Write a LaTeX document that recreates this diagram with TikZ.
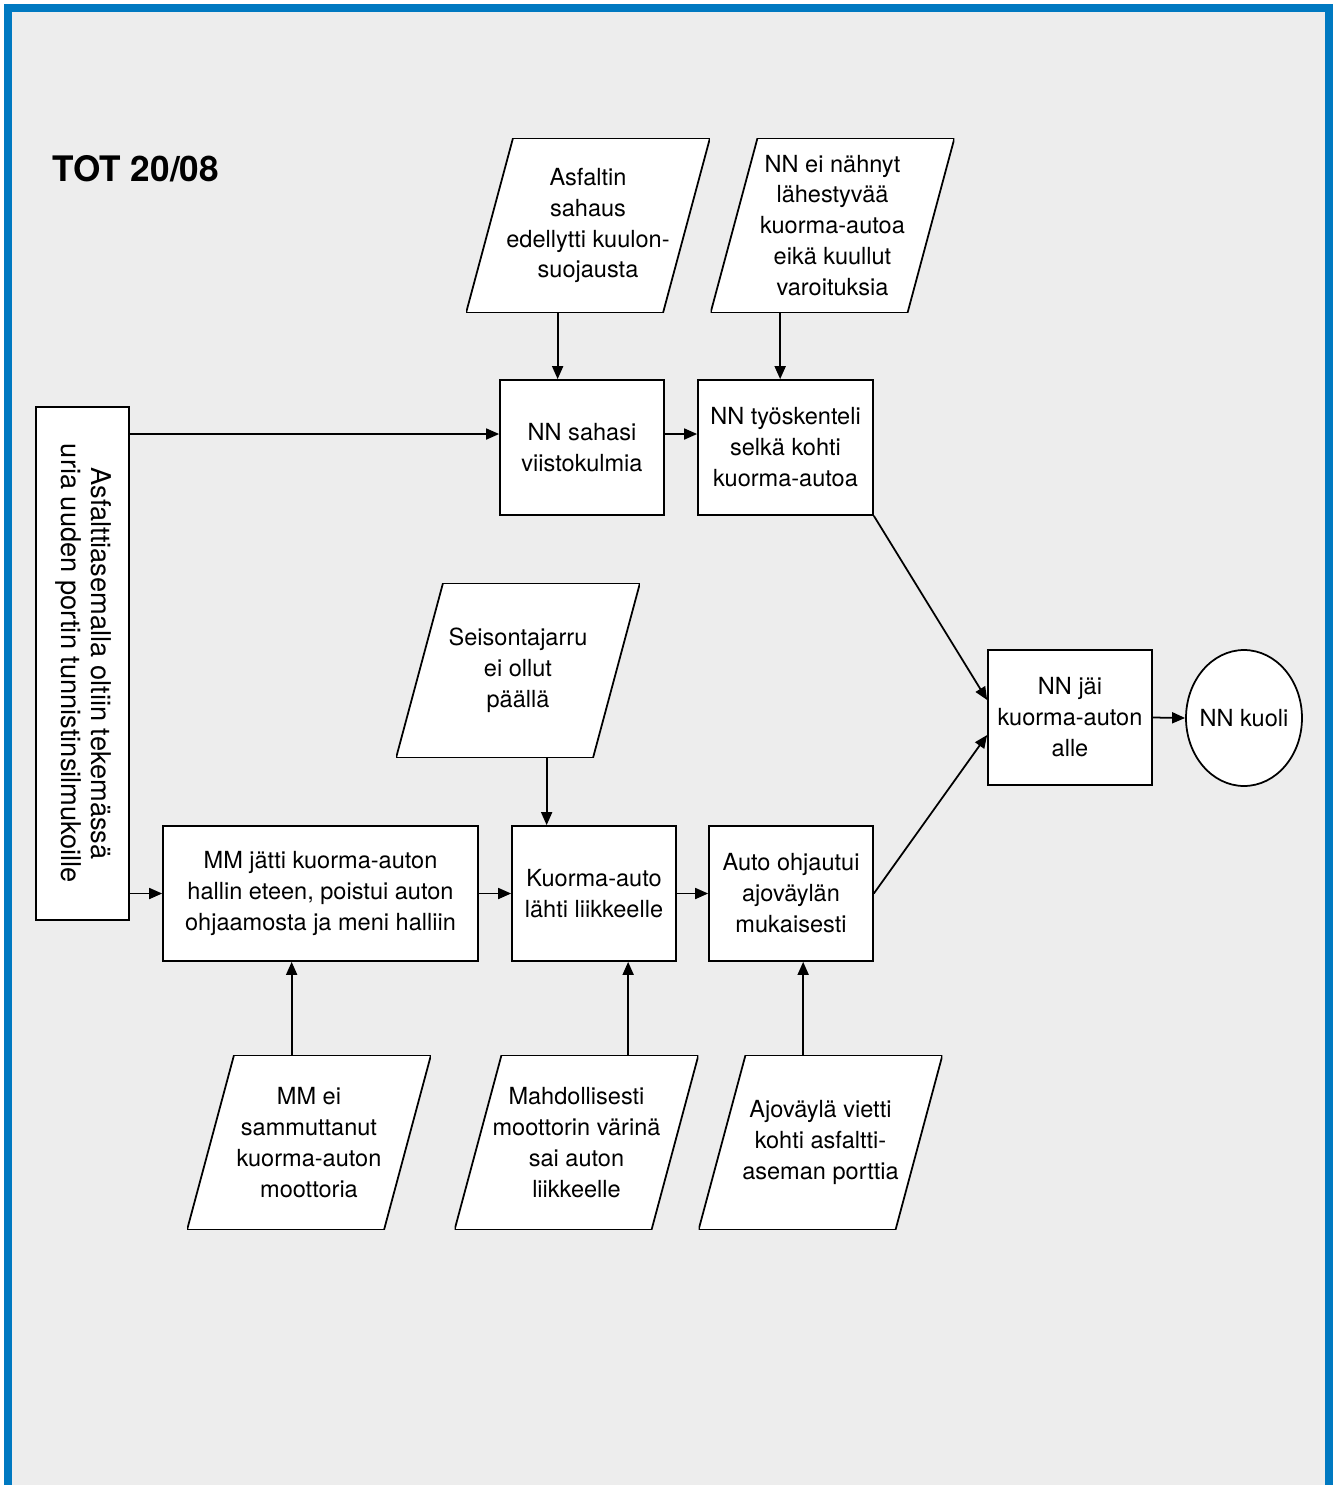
\documentclass[tikz,border=0pt]{standalone}
\usepackage{fontspec}
\setmainfont{TeX Gyre Heros}
\usepackage{graphicx}
\usetikzlibrary{arrows.meta}
\usetikzlibrary{shapes.geometric}
\definecolor{frameblue}{RGB}{0,121,193}
\definecolor{pagegray}{RGB}{237,237,237}

\begin{document}
\begin{tikzpicture}[x=0.02cm, y=-0.02cm]
            \tikzstyle{txt} = [font=\fontsize{13.4}{17.6}\selectfont, align=center, inner sep=1pt]
            \tikzstyle{box} = [txt, draw, line width=1pt, fill=white, minimum width=3.28cm, minimum height=2.7cm]
            \tikzstyle{cause} = [txt, minimum width=4.88cm, minimum height=3.5cm,
                path picture={\draw[line width=1pt, fill=white]
                    ([xshift=0.94cm]path picture bounding box.north west) -- (path picture bounding box.north east)
                    -- ([xshift=-0.94cm]path picture bounding box.south east) -- (path picture bounding box.south west) -- cycle;}]
            \tikzstyle{arr} = [line width=1pt, -{Triangle[length=0.26cm, width=0.22cm]}]
            \fill[white] (0, 0) rectangle (1333, 1485);
            \fill[frameblue] (4, 4) rectangle (1333, 1485);
            \fill[pagegray] (12, 12) rectangle (1325, 1485);
            \node[anchor=west, inner sep=0pt, font=\bfseries\fontsize{20}{24}\selectfont] (title) at (52, 169) {TOT 20/08};
            \node[box, minimum width=1.86cm, minimum height=10.26cm, font=\fontsize{15.5}{17}\selectfont] (start) at (82.5, 663.5)
                {\rotatebox{-90}{\begin{tabular}{@{}c@{}}Asfalttiasemalla oltiin tekemässä\\uria uuden portin tunnistinsilmukoille\end{tabular}}};
            \node[cause] (hearing) at (588, 225.5) {Asfaltin\\sahaus\\edellytti kuulon-\\suojausta};
            \node[cause] (unseen) at (832.5, 225.5) {NN ei nähnyt\\lähestyvää\\kuorma-autoa\\eikä kuullut\\varoituksia};
            \node[box] (sawing) at (582, 447.5) {NN sahasi\\viistokulmia};
            \node[box, minimum width=3.5cm] (backturned) at (785.5, 447.5) {NN työskenteli\\selkä kohti\\kuorma-autoa};
            \node[cause] (brake) at (518, 670.5) {Seisontajarru\\ei ollut\\päällä};
            \node[box] (under) at (1070, 717.5) {NN jäi\\kuorma-auton\\alle};
            \node[txt, draw, ellipse, line width=1pt, fill=white, minimum width=2.32cm, minimum height=2.72cm, inner sep=0pt] (died) at (1244, 718) {\makebox[0pt]{NN kuoli}};
            \node[box, minimum width=6.3cm] (leftcab) at (320.5, 893.5) {MM jätti kuorma-auton\\hallin eteen, poistui auton\\ohjaamosta ja meni halliin};
            \node[box] (rolled) at (594, 893.5) {Kuorma-auto\\lähti liikkeelle};
            \node[box] (steered) at (791, 893.5) {Auto ohjautui\\ajoväylän\\mukaisesti};
            \node[cause] (engine) at (309, 1142.5) {MM ei\\sammuttanut\\kuorma-auton\\moottoria};
            \node[cause] (vibration) at (576.5, 1142.5) {Mahdollisesti\\moottorin värinä\\sai auton\\liikkeelle};
            \node[cause] (slope) at (820.5, 1142.5) {Ajoväylä vietti\\kohti asfaltti-\\aseman porttia};
            \coordinate (upper) at (300, 434);
            \draw[arr] (start.east |- upper) -- (sawing.west |- upper);
            \draw[arr] (sawing.east |- upper) -- (backturned.west |- upper);
            \draw[arr] ([xshift=1.84cm]hearing.south west) coordinate (h1) -- (h1 |- sawing.north);
            \draw[arr] ([xshift=1.4cm]unseen.south west) coordinate (u1) -- (u1 |- backturned.north);
            \draw[arr] (backturned.south east) -- ([yshift=0.35cm]under.west);
            \draw[arr] (steered.east) -- ([yshift=-0.35cm]under.west);
            \draw[arr] (under.east) -- (died.west);
            \draw[arr] (start.east |- leftcab) -- (leftcab.west);
            \draw[arr] (leftcab.east) -- (rolled.west);
            \draw[arr] (rolled.east) -- (steered.west);
            \draw[arr] ([xshift=3.02cm]brake.south west) coordinate (b1) -- (b1 |- rolled.north);
            \draw[arr] ([xshift=2.1cm]engine.north west) coordinate (e1) -- (e1 |- leftcab.south);
            \draw[arr] ([xshift=3.48cm]vibration.north west) coordinate (v1) -- (v1 |- rolled.south);
            \draw[arr] ([xshift=2.1cm]slope.north west) coordinate (s1) -- (s1 |- steered.south);
        \end{tikzpicture}
\end{document}
